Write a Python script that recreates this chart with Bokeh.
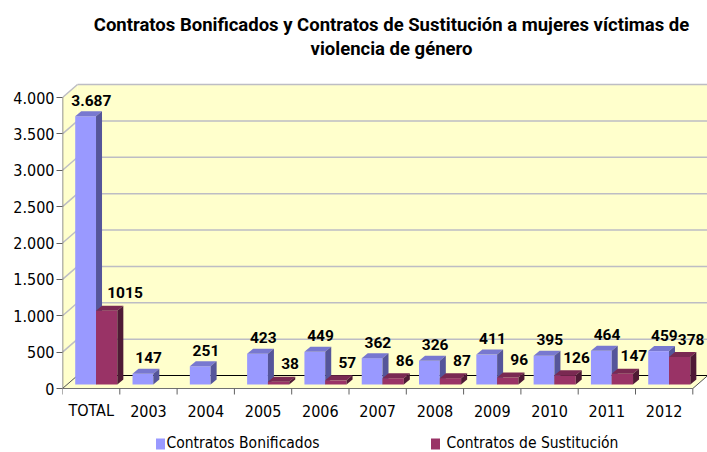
import math
from bokeh.plotting import figure
from bokeh.models import Range1d, FixedTicker
from bokeh.core.properties import value
from bokeh.embed import file_html
from bokeh.resources import INLINE

# ---------------- data ----------------
categories = ["TOTAL", "2003", "2004", "2005", "2006", "2007", "2008", "2009", "2010", "2011", "2012"]
bonificados = [3687, 147, 251, 423, 449, 362, 326, 411, 395, 464, 459]
sustitucion = [1015, None, None, 38, 57, 86, 87, 96, 126, 147, 378]
bon_labels = ["3.687", "147", "251", "423", "449", "362", "326", "411", "395", "464", "459"]
sus_labels = ["1015", "", "", "38", "57", "86", "87", "96", "126", "147", "378"]
y_ticks = [0, 500, 1000, 1500, 2000, 2500, 3000, 3500, 4000]
y_tick_labels = ["0", "500", "1.000", "1.500", "2.000", "2.500", "3.000", "3.500", "4.000"]
title_lines = ["Contratos Bonificados y Contratos de Sustitución a mujeres víctimas de",
               "violencia de género"]
series_names = ["Contratos Bonificados", "Contratos de Sustitución"]

# ---------------- layout constants ----------------
W, H = 707, 452
LEFT = 62
PX_X = 57.3        # pixels per category
PX_Y = 0.07275     # pixels per unit
X0, Y0 = 62, 388   # page pixel of (0, 0)
XMAX = (W - LEFT) / PX_X
YTOP = Y0 / PX_Y
YBOT = -(H - Y0) / PX_Y

def xv(X):
    return (X - X0) / PX_X

def yv(Y):
    return (Y0 - Y) / PX_Y

DX, DY = 15 / PX_X, 13 / PX_Y      # wall depth
B0 = 4 / PX_Y                      # bar front base
BDX, BDY = 6 / PX_X, 5 / PX_Y      # bar depth
N = len(categories)
YMAXV = y_ticks[-1]

BOLDF = value("Roboto")
COND = value("DejaVu Sans Condensed")

p = figure(width=W, height=H, output_backend="svg", toolbar_location=None,
           x_range=Range1d(0, XMAX), y_range=Range1d(YBOT, YTOP),
           x_axis_type=None, min_border_left=LEFT, min_border_right=0,
           min_border_top=0, min_border_bottom=0)
p.outline_line_color = None
p.ygrid.visible = False
p.background_fill_color = "white"
p.border_fill_color = "white"

ax = p.yaxis[0]
ax.ticker = FixedTicker(ticks=y_ticks)
ax.major_label_overrides = {t: l for t, l in zip(y_ticks, y_tick_labels)}
ax.major_label_text_font = "DejaVu Sans Condensed"
ax.major_label_text_font_size = "16px"
ax.major_label_text_color = "black"
ax.axis_line_color = None
ax.major_tick_out = 6
ax.major_tick_in = 0
ax.minor_tick_out = 0
ax.minor_tick_in = 0
ax.major_tick_line_color = "#606060"
ax.major_label_standoff = 2

WALL = "#FFFFCC"
GRID = "#BDBDC4"

# walls and floor
p.patch([DX, XMAX + 1, XMAX + 1, DX], [DY, DY, YMAXV + DY, YMAXV + DY], color=WALL, line_color=None)
p.patch([0, DX, DX, 0], [0, DY, YMAXV + DY, YMAXV], color=WALL, line_color=None)
p.patch([0, N, N + DX, DX], [0, 0, DY, DY], color=WALL, line_color=None)

# gridlines (back wall + left wall)
gv = y_ticks[1:]
p.segment(x0=[DX] * len(gv), y0=[v + DY for v in gv], x1=[XMAX + 1] * len(gv), y1=[v + DY for v in gv],
          line_color=GRID, line_width=1.5)
p.segment(x0=[0] * len(gv), y0=gv, x1=[DX] * len(gv), y1=[v + DY for v in gv],
          line_color=GRID, line_width=1.5)

# floor edges
p.segment(x0=[DX], y0=[DY], x1=[XMAX + 1], y1=[DY], line_color="black", line_width=1.2)
p.segment(x0=[0, N], y0=[0, 0], x1=[DX, N + DX], y1=[DY, DY], line_color="#505050", line_width=1)
p.segment(x0=[0], y0=[0], x1=[N], y1=[0], line_color="#707070", line_width=1.2)
p.segment(x0=[0], y0=[0], x1=[0], y1=[YMAXV], line_color="#707070", line_width=1.5)

# x ticks
p.segment(x0=list(range(N + 1)), y0=[0] * (N + 1), x1=list(range(N + 1)), y1=[-6 / PX_Y] * (N + 1),
          line_color="#606060", line_width=1)

def draw_bars(vals, lo, hi, front, top, side):
    L, R, T, idx = [], [], [], []
    for i, v in enumerate(vals):
        if v is None:
            continue
        L.append(i + lo)
        R.append(i + hi)
        T.append(v + B0)
        idx.append(i)
    p.quad(left=L, right=R, bottom=[B0] * len(L), top=T, fill_color=front, line_color=None)
    p.patches(xs=[[l, r, r + BDX, l + BDX] for l, r in zip(L, R)],
              ys=[[t, t, t + BDY, t + BDY] for t in T], fill_color=top, line_color=None)
    p.patches(xs=[[r, r + BDX, r + BDX, r] for r in R],
              ys=[[B0, B0 + BDY, t + BDY, t] for t in T], fill_color=side, line_color=None)
    return L, R, T, idx

BLUE, BLUE_T, BLUE_S = "#9999FF", "#7878D0", "#55559A"
MAR, MAR_T, MAR_S = "#993366", "#7A2952", "#4F1A35"

bL, bR, bT, bI = draw_bars(bonificados, 0.222, 0.585, BLUE, BLUE_T, BLUE_S)
mL, mR, mT, mI = draw_bars(sustitucion, 0.585, 0.957, MAR, MAR_T, MAR_S)

# value labels (vertical centre of the digits)
m_shift = [0.32 if i == 0 else 0.2 for i in mI]
p.text(x=[(l + r) / 2 + 0.1 for l, r in zip(bL, bR)], y=[t + 16 / PX_Y for t in bT],
       text=[bon_labels[i] for i in bI], text_font=BOLDF, text_font_style="bold",
       text_font_size="15.5px", text_align="center", text_baseline="middle", text_color="black")
p.text(x=[(l + r) / 2 + s for l, r, s in zip(mL, mR, m_shift)], y=[t + 18 / PX_Y for t in mT],
       text=[sus_labels[i] for i in mI], text_font=BOLDF, text_font_style="bold",
       text_font_size="15.5px", text_align="center", text_baseline="middle", text_color="black")

# category labels
p.text(x=[i + 0.5 for i in range(N)], y=[yv(410)] * N, text=categories, text_font=COND,
       text_font_size="16px", text_align="center", text_baseline="middle", text_color="black")

# title
p.text(x=[xv(391)] * 2, y=[yv(24.5), yv(48.5)], text=title_lines, text_font=BOLDF,
       text_font_style="bold", text_font_size="18.5px", text_align="center",
       text_baseline="middle", text_color="black")

# legend
p.rect(x=[xv(160), xv(435)], y=[yv(443.5)] * 2, width=9, height=11, width_units="screen",
       height_units="screen", fill_color=[BLUE, MAR], line_color=None)
p.text(x=[xv(166), xv(446)], y=[yv(442.5)] * 2, text=series_names, text_font=COND,
       text_font_size="15.5px", text_align="left", text_baseline="middle", text_color="black")

open("out.html", "w").write(file_html(p, INLINE))
